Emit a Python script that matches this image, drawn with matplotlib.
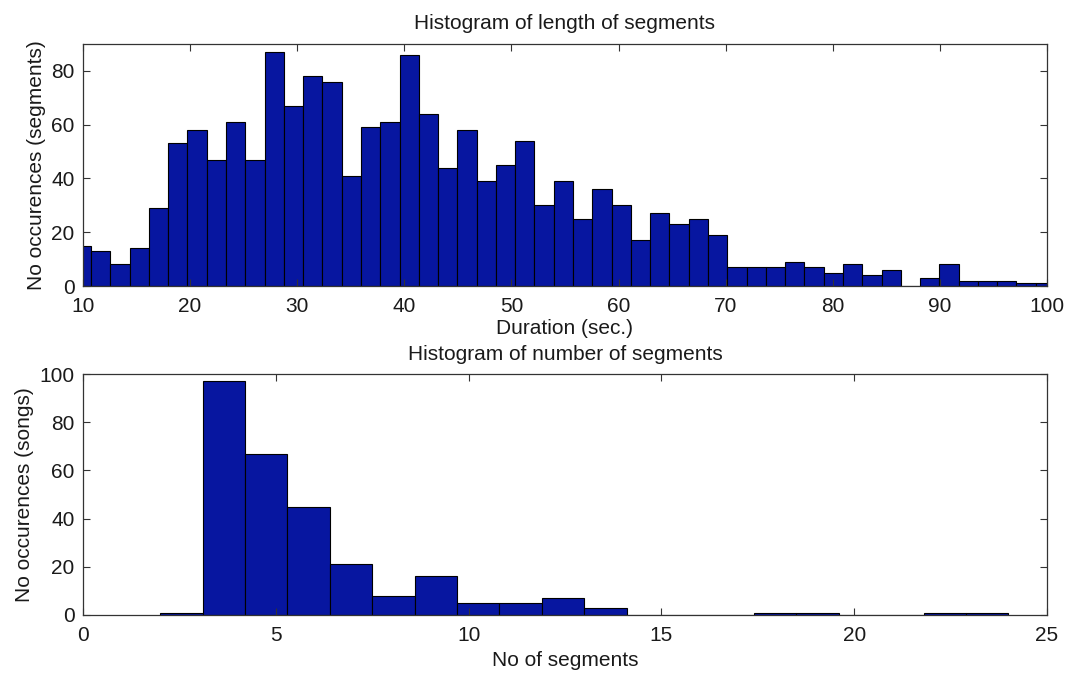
import numpy as np
import matplotlib
matplotlib.use("Agg")
import matplotlib.pyplot as plt

plt.rcParams['font.family'] = ['Liberation Sans', 'DejaVu Sans']

# histogram of segment lengths (seconds), 51 bins of 1.8 s starting at 8.95
len_start = 8.95
len_width = 1.8
len_counts = [15, 13, 8, 14, 29, 53, 58, 47, 61, 47,
              87, 67, 78, 76, 41, 59, 61, 86, 64, 44,
              58, 39, 45, 54, 30, 39, 25, 36, 30, 17,
              27, 23, 25, 19, 7, 7, 7, 9, 7, 5,
              8, 4, 6, 0, 3, 8, 2, 2, 2, 1, 1]

# histogram of number of segments per song, 20 bins between 2 and 24
num_start = 2.0
num_width = 1.1
num_counts = [1, 97, 67, 45, 21, 8, 16, 5, 5, 7,
              3, 0, 0, 0, 1, 1, 0, 0, 1, 1]

bar_color = '#0716a0'
axis_color = '#333333'
text_color = '#1a1a1a'
fs = 15

fig = plt.figure(figsize=(10.69, 6.73), dpi=100)
ax1 = fig.add_axes([83 / 1069, 1 - 286 / 673, 964 / 1069, 242 / 673])
ax2 = fig.add_axes([83 / 1069, 1 - 615 / 673, 964 / 1069, 241 / 673])


def draw_hist(ax, start, width, counts):
    edges = start + width * np.arange(len(counts) + 1)
    ax.hist(edges[:-1], bins=edges, weights=counts, color=bar_color,
            edgecolor='black', linewidth=0.8)
    ax.tick_params(direction='in', top=True, right=True, labelsize=fs,
                   colors=axis_color, labelcolor=text_color, length=5, width=0.8)
    ax.tick_params(axis='x', pad=8)
    ax.tick_params(axis='y', pad=6)
    for s in ax.spines.values():
        s.set_color(axis_color)
        s.set_linewidth(0.9)


draw_hist(ax1, len_start, len_width, len_counts)
ax1.set_xlim(10, 100)
ax1.set_ylim(0, 90)
ax1.set_xticks(np.arange(10, 101, 10))
ax1.set_yticks(np.arange(0, 81, 20))
ax1.set_title('Histogram of length of segments', fontsize=fs, pad=11,
              color=text_color)
ax1.set_xlabel('Duration (sec.)', fontsize=fs, labelpad=2, color=text_color)
ax1.set_ylabel('No occurences (segments)', fontsize=fs, color=text_color)

draw_hist(ax2, num_start, num_width, num_counts)
ax2.set_xlim(0, 25)
ax2.set_ylim(0, 100)
ax2.set_xticks(np.arange(0, 26, 5))
ax2.set_yticks(np.arange(0, 101, 20))
ax2.set_title('Histogram of number of segments', fontsize=fs, pad=10,
              color=text_color)
ax2.set_xlabel('No of segments', fontsize=fs, labelpad=4, color=text_color)
ax2.set_ylabel('No occurences (songs)', fontsize=fs, color=text_color)

fig.savefig('out.png', dpi=100)
